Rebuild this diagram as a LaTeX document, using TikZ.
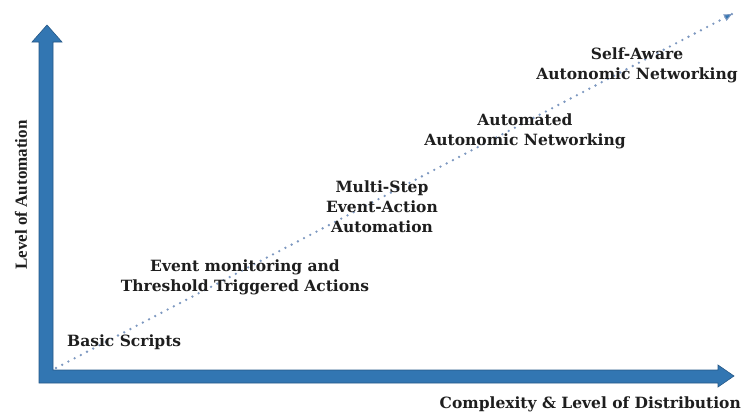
\documentclass[tikz,border=0pt]{standalone}
\usepackage{fontspec}
\setmainfont{DejaVu Serif}
\newfontfamily\timesfont{Liberation Serif}
\usetikzlibrary{arrows.meta,calc}
\definecolor{axisblue}{RGB}{50,118,178}
\definecolor{axisedge}{RGB}{38,88,135}
\definecolor{dotblue}{RGB}{125,152,192}
\definecolor{txt}{RGB}{30,30,30}
\tikzset{
  lbl/.style={font=\fontsize{15.5}{20}\selectfont\bfseries, align=center, inner sep=0pt, text=txt},
}
\begin{document}
\begin{tikzpicture}[x=1pt,y=-1pt]
\useasboundingbox (0,0) rectangle (742,415);
% axes
\fill[axisblue, draw=axisedge, line width=0.6pt]
  (39,383) -- (39,42) -- (32,42) -- (47,25) -- (62,42) -- (53,42) -- (53,370)
  -- (718,370) -- (718,365) -- (734,376) -- (718,387) -- (718,383) -- cycle;
% dotted trend
\coordinate (o) at (56,368);
\coordinate (t) at (732,14);
\draw[dotblue, line width=2.6pt, line cap=round, dash pattern=on 0pt off 7pt] (o) -- (t);
\draw[dotblue, line width=1pt, -{Triangle[length=8pt,width=7pt,fill=axisblue]}] ($(t)!8pt!(o)$) -- (t);
% labels
\node[lbl, anchor=west] (basic) at (67,342) {Basic Scripts};
\node[lbl] (event) at (245,277) {Event monitoring and\\Threshold Triggered Actions};
\node[lbl] (multi) at (382,207) {Multi-Step\\Event-Action\\Automation};
\node[lbl] (auto) at (525,131) {Automated\\Autonomic Networking};
\node[lbl] (self) at (637,65) {Self-Aware\\Autonomic Networking};
\node[lbl, anchor=east] (xlab) at (741,404) {Complexity \& Level of Distribution};
\node[font=\timesfont\fontsize{17}{20}\selectfont\bfseries, rotate=90, inner sep=0pt, text=txt] (ylab) at (21,195) {Level of Automation};
\end{tikzpicture}
\end{document}
